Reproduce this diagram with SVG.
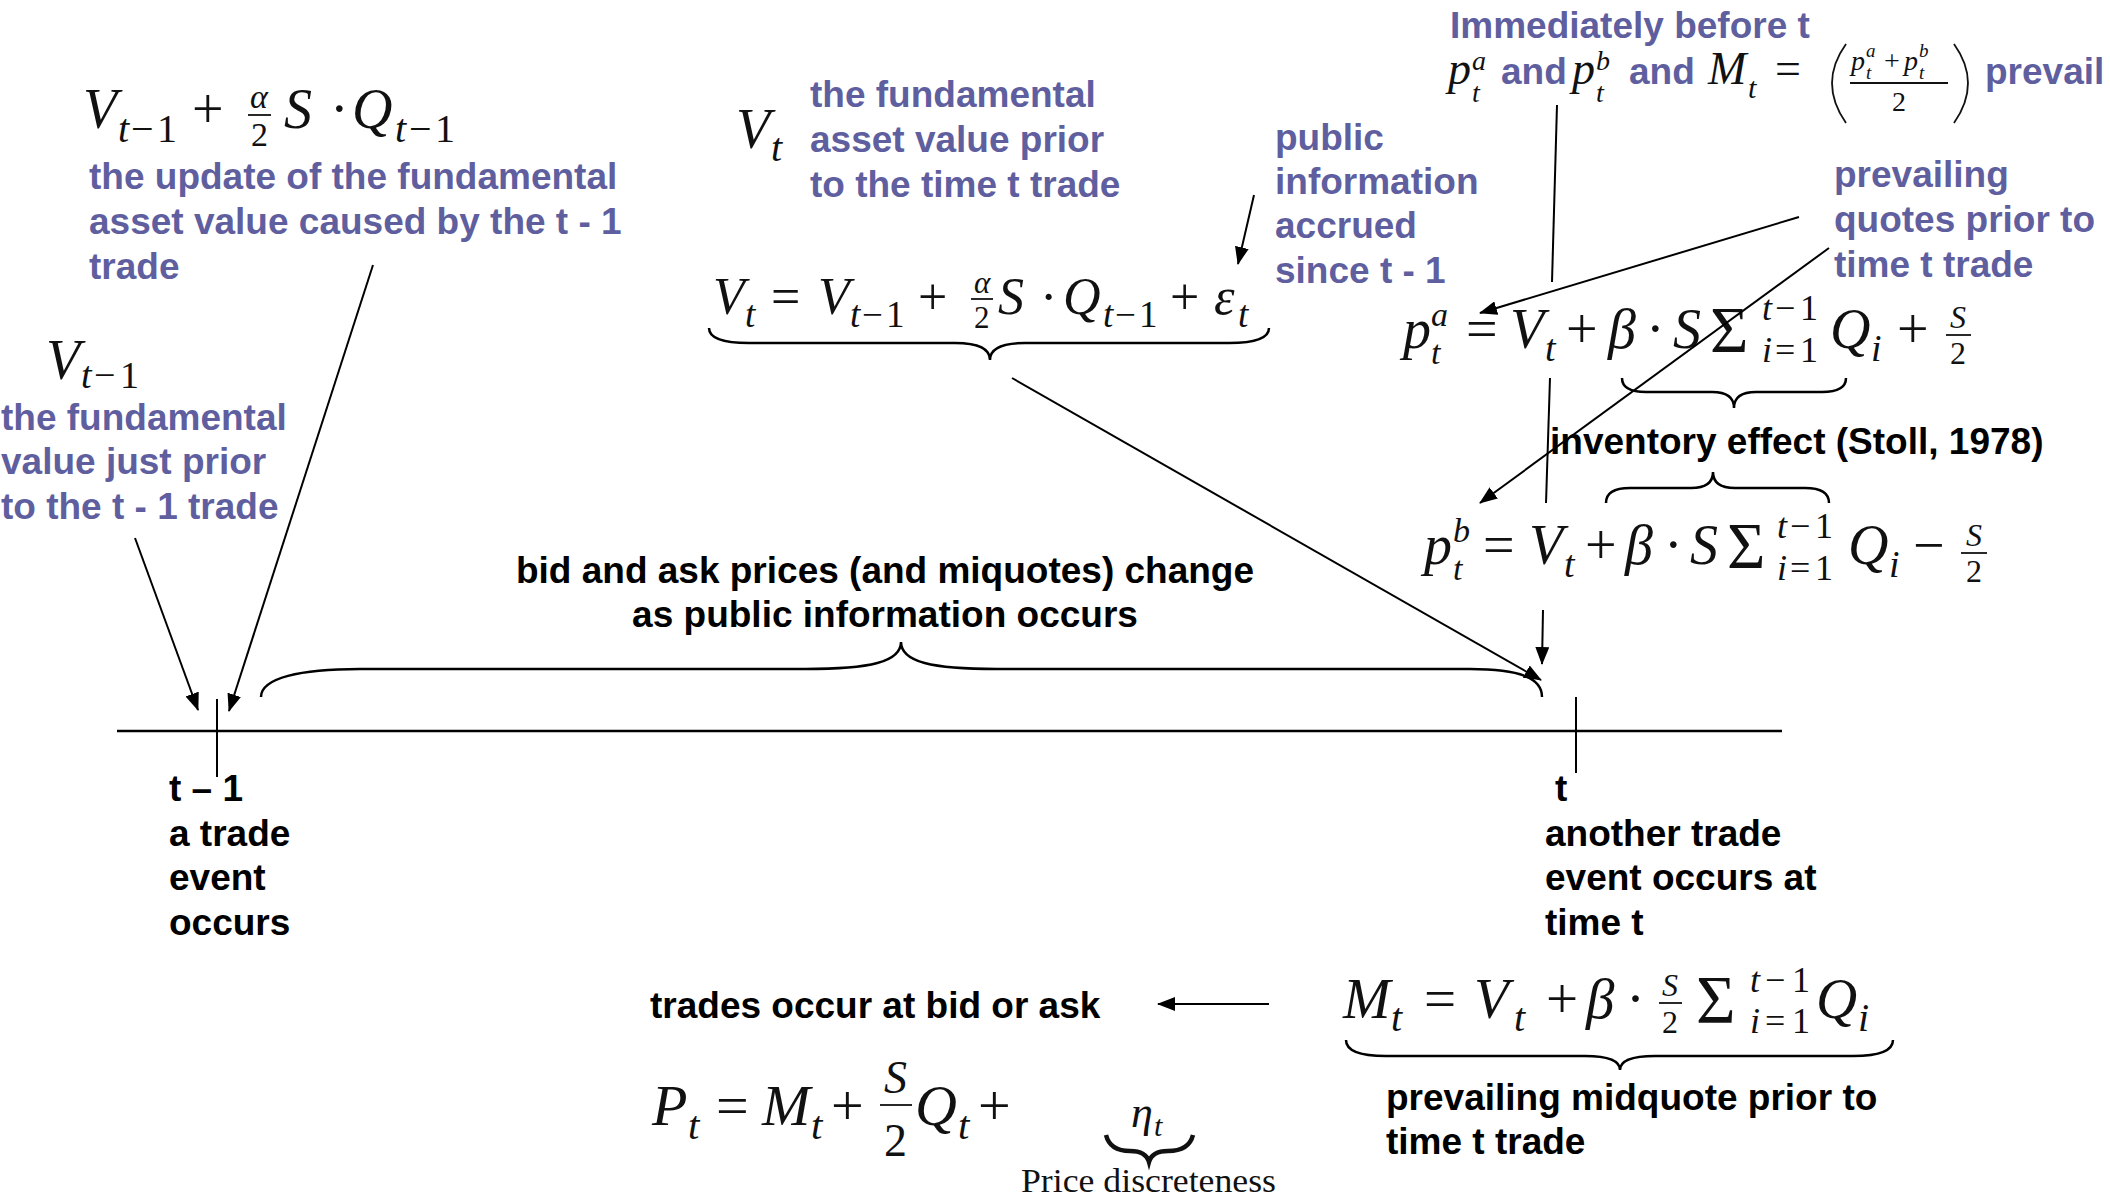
<svg xmlns="http://www.w3.org/2000/svg" width="2110" height="1197" viewBox="0 0 2110 1197">
<style>
.bt{font-family:"Liberation Sans",Arial,sans-serif;font-weight:700;font-size:37px}
.bl{fill:#5F5FA0}
.k{fill:#000}
.mi{font-family:"Liberation Serif","Times New Roman",serif;font-style:italic;fill:#111}
.mr{font-family:"Liberation Serif","Times New Roman",serif;font-style:normal;fill:#111}
.up{font-style:normal}
.ln{stroke:#000;stroke-width:2;fill:none}
.br{stroke:#000;stroke-width:2.5;fill:none}
.fb{stroke:#111;stroke-width:1.8;fill:none}
</style>
<defs>
<marker id="ah" markerUnits="userSpaceOnUse" markerWidth="18" markerHeight="14" refX="17" refY="7" orient="auto"><path d="M0,0 L18,7 L0,14 z" fill="#000"/></marker>
</defs>
<rect width="2110" height="1197" fill="#fff"/>

<g id="timeline">
<line x1="117" y1="731" x2="1782" y2="731" stroke="#000" stroke-width="2.5"/>
<line x1="217" y1="699" x2="217" y2="777" stroke="#000" stroke-width="2"/>
<line x1="1576" y1="697" x2="1576" y2="773" stroke="#000" stroke-width="2"/>
</g>

<g id="label-t-1" class="bt k">
<text x="169" y="801">t – 1</text>
<text x="169" y="846">a trade</text>
<text x="169" y="890">event</text>
<text x="169" y="935">occurs</text>
</g>
<g id="label-t" class="bt k">
<text x="1555" y="801">t</text>
<text x="1545" y="846">another trade</text>
<text x="1545" y="890">event occurs at</text>
<text x="1545" y="935">time t</text>
</g>

<g id="f-update">
<text class="mi" font-size="56"><tspan x="83" y="128">V</tspan><tspan x="118" y="142" font-size="40">t</tspan><tspan class="up" x="131" y="142" font-size="40">−</tspan><tspan class="up" x="157" y="142" font-size="40">1</tspan><tspan class="up" x="192" y="128">+</tspan><tspan x="250" y="108" font-size="34">α</tspan><tspan class="up" x="251" y="146" font-size="34">2</tspan><tspan x="284" y="128">S</tspan><tspan class="up" x="330" y="128">·</tspan><tspan x="352" y="128">Q</tspan><tspan x="395" y="142" font-size="40">t</tspan><tspan class="up" x="409" y="142" font-size="40">−</tspan><tspan class="up" x="435" y="142" font-size="40">1</tspan></text>
<line class="fb" x1="248" y1="115" x2="271" y2="115"/>
</g>
<g id="note-update" class="bt bl">
<text x="89" y="189">the update of the fundamental</text>
<text x="89" y="234">asset value caused by the t - 1</text>
<text x="89" y="279">trade</text>
</g>

<g id="f-vtm1">
<text class="mi" font-size="56"><tspan x="46" y="379">V</tspan><tspan x="81" y="388" font-size="38">t</tspan><tspan class="up" x="94" y="388" font-size="38">−</tspan><tspan class="up" x="120" y="388" font-size="38">1</tspan></text>
</g>
<g id="note-vtm1" class="bt bl">
<text x="1" y="430">the fundamental</text>
<text x="1" y="474">value just prior</text>
<text x="1" y="519">to the t - 1 trade</text>
</g>

<g id="f-vt">
<text class="mi" font-size="56"><tspan x="736" y="148">V</tspan><tspan x="771" y="161" font-size="40">t</tspan></text>
</g>
<g id="note-vt" class="bt bl">
<text x="810" y="107">the fundamental</text>
<text x="810" y="152">asset value prior</text>
<text x="810" y="197">to the time t trade</text>
</g>

<g id="f-vt-eq">
<text class="mi" font-size="52"><tspan x="713" y="314">V</tspan><tspan x="745" y="327" font-size="37">t</tspan><tspan class="up" x="771" y="314">=</tspan><tspan x="818" y="314">V</tspan><tspan x="850" y="327" font-size="37">t</tspan><tspan class="up" x="862" y="327" font-size="37">−</tspan><tspan class="up" x="886" y="327" font-size="37">1</tspan><tspan class="up" x="918" y="314">+</tspan><tspan x="974" y="293" font-size="31">α</tspan><tspan class="up" x="974" y="328" font-size="31">2</tspan><tspan x="998" y="314">S</tspan><tspan class="up" x="1040" y="314">·</tspan><tspan x="1063" y="314">Q</tspan><tspan x="1103" y="327" font-size="37">t</tspan><tspan class="up" x="1115" y="327" font-size="37">−</tspan><tspan class="up" x="1139" y="327" font-size="37">1</tspan><tspan class="up" x="1170" y="314">+</tspan><tspan x="1214" y="314">ε</tspan><tspan x="1238" y="327" font-size="37">t</tspan></text>
<line class="fb" x1="971" y1="299" x2="993" y2="299"/>
</g>
<g id="note-public" class="bt bl">
<text x="1275" y="150">public</text>
<text x="1275" y="194">information</text>
<text x="1275" y="238">accrued</text>
<text x="1275" y="283">since t - 1</text>
</g>

<g id="note-immediately">
<text class="bt bl" x="1450" y="38">Immediately before t</text>
<text class="mi" font-size="46"><tspan x="1448" y="84">p</tspan><tspan x="1472" y="70" font-size="28">a</tspan><tspan x="1472" y="102" font-size="28">t</tspan></text>
<text class="bt bl" x="1501" y="84">and</text>
<text class="mi" font-size="46"><tspan x="1572" y="84">p</tspan><tspan x="1596" y="70" font-size="28">b</tspan><tspan x="1596" y="102" font-size="28">t</tspan></text>
<text class="bt bl" x="1629" y="84">and</text>
<text class="mi" font-size="46"><tspan x="1708" y="84">M</tspan><tspan x="1748" y="98" font-size="30">t</tspan><tspan class="up" x="1775" y="84">=</tspan></text>
<path class="fb" stroke-width="2.2" d="M1846 44 Q1818 83 1846 123"/>
<text class="mi" font-size="28"><tspan x="1851" y="70">p</tspan><tspan x="1866" y="57" font-size="19">a</tspan><tspan x="1866" y="79" font-size="19">t</tspan><tspan class="up" x="1884" y="70">+</tspan><tspan x="1904" y="70">p</tspan><tspan x="1919" y="57" font-size="19">b</tspan><tspan x="1919" y="79" font-size="19">t</tspan></text>
<line class="fb" x1="1850" y1="83" x2="1948" y2="83"/>
<text class="mr" x="1899" y="111" font-size="28" text-anchor="middle">2</text>
<path class="fb" stroke-width="2.2" d="M1954 44 Q1982 83 1954 123"/>
<text class="bt bl" x="1985" y="84">prevail</text>
</g>

<g id="note-prevailing" class="bt bl">
<text x="1834" y="187">prevailing</text>
<text x="1834" y="232">quotes prior to</text>
<text x="1834" y="277">time t trade</text>
</g>

<g id="f-pa">
<text class="mi" font-size="56"><tspan x="1403" y="348">p</tspan><tspan x="1431" y="326" font-size="34">a</tspan><tspan x="1431" y="364" font-size="34">t</tspan><tspan class="up" x="1466" y="348">=</tspan><tspan x="1510" y="348">V</tspan><tspan x="1545" y="361" font-size="38">t</tspan><tspan class="up" x="1566" y="348">+</tspan><tspan x="1608" y="348">β</tspan><tspan class="up" x="1646" y="348">·</tspan><tspan x="1673" y="348">S</tspan><tspan class="up" x="1710" y="352" font-size="66">Σ</tspan><tspan x="1762" y="320" font-size="36">t</tspan><tspan class="up" x="1775" y="320" font-size="36">−</tspan><tspan class="up" x="1800" y="320" font-size="36">1</tspan><tspan x="1762" y="362" font-size="36">i</tspan><tspan class="up" x="1775" y="362" font-size="36">=</tspan><tspan class="up" x="1800" y="362" font-size="36">1</tspan><tspan x="1830" y="348">Q</tspan><tspan x="1871" y="361" font-size="38">i</tspan><tspan class="up" x="1897" y="348">+</tspan><tspan x="1950" y="328" font-size="32">S</tspan><tspan class="up" x="1950" y="364" font-size="32">2</tspan></text>
<line class="fb" x1="1946" y1="335" x2="1971" y2="335"/>
</g>

<text id="note-inventory" class="bt k" x="1550" y="454">inventory effect (Stoll, 1978)</text>

<g id="f-pb">
<text class="mi" font-size="56"><tspan x="1424" y="564">p</tspan><tspan x="1453" y="542" font-size="34">b</tspan><tspan x="1453" y="580" font-size="34">t</tspan><tspan class="up" x="1483" y="564">=</tspan><tspan x="1529" y="564">V</tspan><tspan x="1564" y="577" font-size="38">t</tspan><tspan class="up" x="1585" y="564">+</tspan><tspan x="1625" y="564">β</tspan><tspan class="up" x="1664" y="564">·</tspan><tspan x="1690" y="564">S</tspan><tspan class="up" x="1727" y="568" font-size="66">Σ</tspan><tspan x="1777" y="538" font-size="36">t</tspan><tspan class="up" x="1790" y="538" font-size="36">−</tspan><tspan class="up" x="1815" y="538" font-size="36">1</tspan><tspan x="1777" y="580" font-size="36">i</tspan><tspan class="up" x="1790" y="580" font-size="36">=</tspan><tspan class="up" x="1815" y="580" font-size="36">1</tspan><tspan x="1848" y="564">Q</tspan><tspan x="1889" y="577" font-size="38">i</tspan><tspan class="up" x="1913" y="564">−</tspan><tspan x="1966" y="546" font-size="32">S</tspan><tspan class="up" x="1966" y="582" font-size="32">2</tspan></text>
<line class="fb" x1="1961" y1="553" x2="1987" y2="553"/>
</g>

<g id="note-bidask" class="bt k" text-anchor="middle">
<text x="885" y="583">bid and ask prices (and miquotes) change</text>
<text x="885" y="627">as public information occurs</text>
</g>

<text id="note-trades" class="bt k" x="650" y="1018">trades occur at bid or ask</text>

<g id="f-mt">
<text class="mi" font-size="57"><tspan x="1343" y="1018">M</tspan><tspan x="1391" y="1031" font-size="40">t</tspan><tspan class="up" x="1424" y="1018">=</tspan><tspan x="1474" y="1018">V</tspan><tspan x="1514" y="1031" font-size="40">t</tspan><tspan class="up" x="1546" y="1018">+</tspan><tspan x="1586" y="1018">β</tspan><tspan class="up" x="1626" y="1018">·</tspan><tspan x="1662" y="996" font-size="32">S</tspan><tspan class="up" x="1662" y="1033" font-size="32">2</tspan><tspan class="up" x="1696" y="1022" font-size="68">Σ</tspan><tspan x="1750" y="992" font-size="36">t</tspan><tspan class="up" x="1765" y="992" font-size="36">−</tspan><tspan class="up" x="1792" y="992" font-size="36">1</tspan><tspan x="1750" y="1033" font-size="36">i</tspan><tspan class="up" x="1765" y="1033" font-size="36">=</tspan><tspan class="up" x="1792" y="1033" font-size="36">1</tspan><tspan x="1816" y="1018">Q</tspan><tspan x="1858" y="1031" font-size="40">i</tspan></text>
<line class="fb" x1="1659" y1="1003" x2="1682" y2="1003"/>
</g>
<g id="note-midquote" class="bt k">
<text x="1386" y="1110">prevailing midquote prior to</text>
<text x="1386" y="1154">time t trade</text>
</g>

<g id="f-pt">
<text class="mi" font-size="58"><tspan x="652" y="1125">P</tspan><tspan x="688" y="1139" font-size="41">t</tspan><tspan class="up" x="716" y="1125">=</tspan><tspan x="762" y="1125">M</tspan><tspan x="811" y="1139" font-size="41">t</tspan><tspan class="up" x="831" y="1125">+</tspan><tspan x="884" y="1093" font-size="46">S</tspan><tspan class="up" x="884" y="1156" font-size="46">2</tspan><tspan x="915" y="1125">Q</tspan><tspan x="958" y="1139" font-size="41">t</tspan><tspan class="up" x="978" y="1125">+</tspan></text>
<line class="fb" x1="880" y1="1105" x2="912" y2="1105"/>
</g>
<g id="f-eta">
<text class="mi" font-size="44"><tspan x="1131" y="1127">η</tspan><tspan x="1154" y="1136" font-size="30">t</tspan></text>
<path d="M1106 1135 Q1110 1151 1130 1151 Q1146 1151 1149 1162 Q1152 1151 1168 1151 Q1189 1151 1193 1135" fill="none" stroke="#111" stroke-width="4.5"/>
<text class="mr" x="1021" y="1192" font-size="34" textLength="255" lengthAdjust="spacingAndGlyphs">Price discreteness</text>
</g>

<g id="connectors">
<path class="br" d="M709 328 Q709 343 749 343 L955 343 Q990 343 990 360 Q990 343 1025 343 L1229 343 Q1269 343 1269 328"/>
<path class="br" d="M1622 378 Q1622 392 1646 392 L1712 392 Q1734 392 1734 408 Q1734 392 1756 392 L1822 392 Q1846 392 1846 378"/>
<path class="br" d="M1606 503 Q1606 488 1630 488 L1691 488 Q1713 488 1713 472 Q1713 488 1735 488 L1805 488 Q1829 488 1829 503"/>
<path class="br" d="M261 697 C261 678 300 669 360 669 L805 669 C870 669 901 662 901 642 C901 662 932 669 997 669 L1470 669 C1520 669 1542 678 1542 697"/>
<path class="br" d="M1346 1040 Q1346 1056 1386 1056 L1585 1056 Q1620 1056 1620 1070 Q1620 1056 1655 1056 L1853 1056 Q1893 1056 1893 1040"/>
<line class="ln" x1="135" y1="538" x2="198" y2="710" marker-end="url(#ah)"/>
<line class="ln" x1="373" y1="265" x2="229" y2="711" marker-end="url(#ah)"/>
<line class="ln" x1="1254" y1="195" x2="1238" y2="264" marker-end="url(#ah)"/>
<line class="ln" x1="1012" y1="378" x2="1541" y2="680" marker-end="url(#ah)"/>
<line class="ln" x1="1557" y1="105" x2="1552" y2="282"/>
<line class="ln" x1="1550" y1="378" x2="1546" y2="503"/>
<line class="ln" x1="1543" y1="610" x2="1542" y2="664" marker-end="url(#ah)"/>
<line class="ln" x1="1799" y1="217" x2="1480" y2="313" marker-end="url(#ah)"/>
<line class="ln" x1="1829" y1="248" x2="1480" y2="503" marker-end="url(#ah)"/>
<line class="ln" x1="1269" y1="1004" x2="1158" y2="1004" marker-end="url(#ah)"/>
</g>
</svg>
